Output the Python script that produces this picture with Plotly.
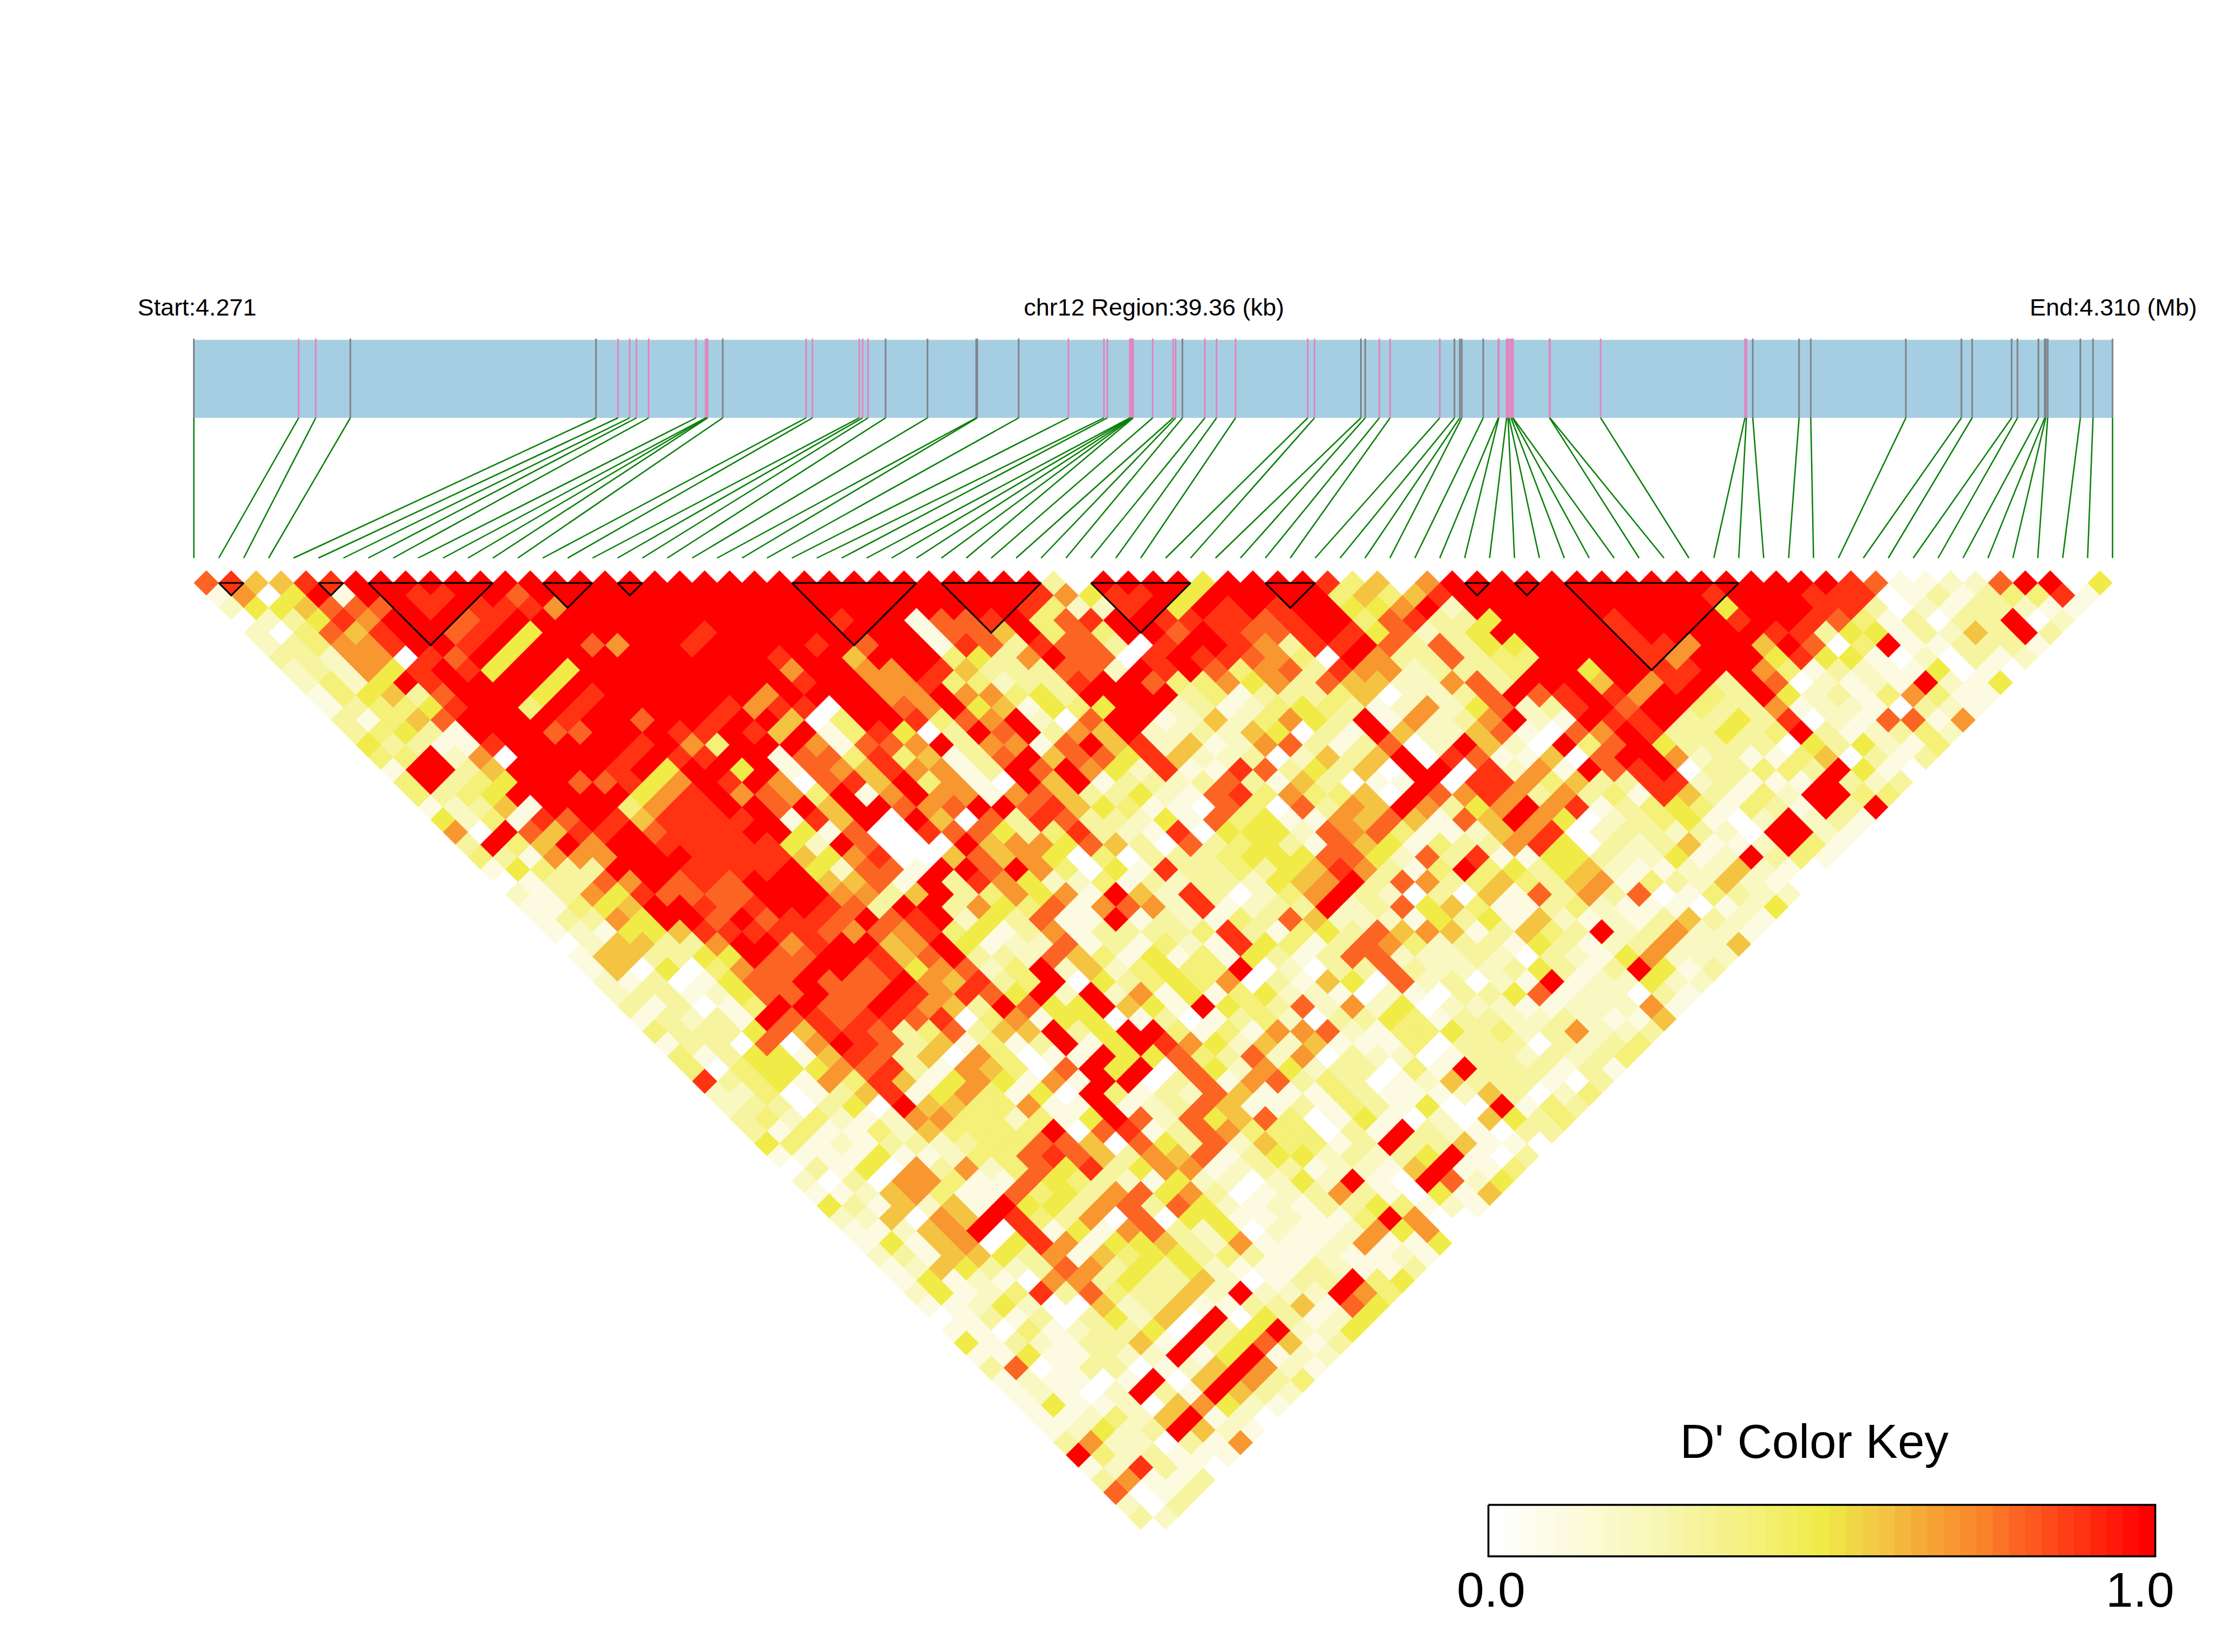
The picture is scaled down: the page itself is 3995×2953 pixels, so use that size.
import plotly.graph_objects as go

snp_kb = [0.00,2.15,2.50,3.21,8.25,8.70,8.94,9.08,9.33,10.30,10.50,10.52,10.54,10.85,12.56,12.69,13.65,13.72,13.83,14.19,
          15.05,16.05,16.07,16.92,17.94,18.67,18.74,19.20,19.22,19.24,19.25,19.27,19.67,20.09,20.14,20.28,20.74,20.98,21.37,22.85,
          22.99,23.94,24.03,24.32,24.54,25.56,25.86,25.97,26.01,26.45,26.76,26.77,26.93,26.96,26.98,27.02,27.05,27.06,27.81,27.82,
          28.86,31.82,31.85,31.98,32.93,33.17,35.12,36.26,36.48,37.29,37.41,37.84,37.97,37.99,38.03,38.70,38.96,39.36]
region_kb = 39.36
grey_snps = [0,3,4,13,19,20,21,22,23,35,41,42,46,47,48,49,63,64,65,66,67,68,69,70,71,72,73,74,75,76,77]
ld_blocks = [(1,2),(5,6),(7,12),(14,16),(17,18),(24,29),(30,34),(36,40),(43,45),(51,52),(53,54),(55,62)]

# D' per row of the triangle, row k = SNP pairs (i, i+k+1); digit = tenths, X = 1.0
dprime_rows = [
"896699XXXX XXXXXXXXXX XXXXXXXXXX XXXX30XXXX 5XXXX94607 XXXXXXXXXX XXXXXX9811 228XX05",
"1705X1XX99 XX8XXXXXXX XXXXXXXXXX XXX97599X5 XXXXX46469 XXXXXXXXXX 9XXX999013 134491",
"2556888X9X 9997XXXXXX XXXXXXXXXX XX94229X5X 9X9XX557X2 XXXXXXXXXX 5XXX993021 33211",
"023597XXX8 9XXXXXXXXX XXXX9XX188 9X489XX999 989XX48933 5XXXX9XXXX 9XX9841303 3X02",
"204869XX89 X5XXXXXX9X XXXXXXX188 6X484XX8X9 889X958235 XXXXX9XXXX X993551326 3X3",
"234779XX9X 5XX87XX9XX XX9X8XX198 3988309XX9 7399X83835 5XXXX997XX 6X804X1133 31",
"33277098X5 XXXXXXXXXX 9XX6XXX453 7X8809X998 740X733834 4XXXX97XXX 5955102031 2",
"232759X95X X5XXXXXXXX 7XX77X9633 3882X9X847 8397723334 XX5XX99XX7 4132115010",
"2425X9XXXX 5XXXXXXXXX 9XX7794423 39XX844757 386622783X XX6X79X3X8 02121X215",
"145638XXX5 X9XXXXXX7X XXX77X7745 3XXXX34133 34602238X8 9X97XX43X5 23147411",
"134459XX4X 9XXXXX9799 0XX87X5615 45XX231245 4312725823 9X8XX43371 2210321",
"31468XXXX9 XX8XX9XX60 4XX9487X20 8XX1262475 3X17237X21 X99X335390 218817",
"34531XXX88 XXX99X96X1 49503X8X37 6X22326503 1X62268108 7X933534X3 12342",
"533119XXXX X9X74XXX71 887X37718X 6926127831 3802X620X4 8X53333053 5214",
"44X270XXXX 9X99XX1884 946138X688 5962230263 6X09811608 XX72311460 313",
"1XX36XXXX9 X5XX5X1876 97713X8X75 2911983536 0XX09271X8 9X033443X5 10",
"4X345XX889 57X9X70896 X4710X6X13 3238316301 1X09974633 9923111X32 3",
"4345XXXXX5 79X7874X17 X771786335 2189474460 X879737341 963142XX44",
"12361XXX47 99XX8X6XX8 78XX896541 108408376X 7357X79134 541431X3X",
"524198X969 999X196X0X 6083983325 1845117686 186X750234 5102X231",
"70X8699X89 99XX518009 8853493219 0555287841 1267902332 320XX21",
"3X46X7XX99 99952X8000 X677586308 3453186514 3379503236 112X41",
"431777XXX9 9996579006 8675040333 4555885283 9115532251 2X341",
"15433XXX99 99X52881XX 8X74051933 435697314X 4535621122 6210",
"013387X898 XXX6681X39 7522413233 2567X38734 6436714326 210",
"2137598888 XXX7736X34 7571X62930 247X320306 1837380143 22",
"11456XX989 XX983XX375 4817872912 33X2385641 1342111012 5",
"13375XX8X8 998X89X253 811X132143 8622215351 6212136321",
"1215569999 9878794513 7133334931 4538676136 43X237221",
"0266337XX7 9XX67X5122 8131421954 1387423315 31237226",
"1663355X88 XX968X3328 6415141531 3882223203 2157222",
"160504788X X8957824X2 624544X020 3383222353 13X513",
"21301588X8 88X76934X0 5345470316 50823021X1 22522",
"23312588X8 8X97985X2X 2715145221 0210335812 2031",
"313014XX88 X9763X855X 651X543827 2502221122 271",
"13231X8989 9890471550 1301342033 5413322321 16",
"4333586998 348366X35X X414177821 4453423722 3",
"1330807X98 361413X15X 9752626111 4033303234",
"4135516983 6074011X55 8438270322 013323234",
"4045557893 176408X5X0 8527523304 1X333131",
"9345174961 575171XX03 8178343012 6333103",
"2240136915 74150X4132 8611143111 263024",
"2330350X66 44711X1238 6113143150 0X143",
"3424212774 42415X8285 6840151020 6534",
"3141142644 44X0891387 444031X321 033",
"5412133234 4886085382 64413X3361 10",
"1111511244 8986376813 5523235X10 3",
"0315073724 8593577123 312216X114",
"2030774118 5432152202 52X10X825",
"1126741184 5378573012 37310516",
"5316261X55 3783852121 3354121",
"226076X943 7080551121 14X700",
"11267X0915 1783250211 27570",
"1516705971 5563271112 7115",
"2316653716 4553431121 121",
"1265323873 5352111321 13",
"1512107735 33620133X4 5",
"2512493843 362X222X74",
"1125200623 611336185",
"0131303526 0X0531 25",
"1104123350 X35X225",
"5132133 61X 358613",
"1151132 2X1 5X122",
"3801330126 X721",
"1211 01X06X 734",
"1210 2X31X6 32",
"1511206752 1",
"11242 6X120",
"12523X621",
"37220317",
"X423111",
"129310",
"37113",
"8013",
"203",
"32",
"0",
]

ANCHORS = [(0,(255,255,255)),(.25,(248,246,180)),(.4,(244,240,120)),(.5,(240,235,70)),(.55,(240,215,70)),
           (.6,(243,195,65)),(.65,(246,170,55)),(.7,(248,150,48)),(.75,(250,130,42)),(.8,(252,100,35)),
           (.9,(255,50,18)),(1,(255,0,0))]
def colour(v):
    for (a,ca),(b,cb) in zip(ANCHORS,ANCHORS[1:]):
        if v<=b:
            t=(v-a)/(b-a)
            return "rgb(%d,%d,%d)"%tuple(round(p+(q-p)*t) for p,q in zip(ca,cb))
    return "rgb(255,0,0)"

n = len(snp_kb)
UNIT = 44.54; X0 = 346.5; Y0 = 1042.0
W, H = 3995, 2953
ux = lambda px: (px-X0)/UNIT
uy = lambda py: (py-Y0)/UNIT

fig = go.Figure()

# gene band
span = n-1
band_t, band_b, link_b = uy(607.5), uy(747), uy(997.5)
fig.add_trace(go.Scatter(x=[0,span,span,0,0],y=[band_t,band_t,band_b,band_b,band_t],mode="lines",fill="toself",
                         fillcolor="#A6CEE3",line=dict(width=0),hoverinfo="skip",showlegend=False))
band_x = [k/region_kb*span for k in snp_kb]
for colr, idx in (("#E086BE",[i for i in range(n) if i not in grey_snps]),("#808488",grey_snps)):
    xs, ys = [], []
    for i in idx:
        xs += [band_x[i],band_x[i],None]; ys += [band_t-0.05,band_b,None]
    fig.add_trace(go.Scatter(x=xs,y=ys,mode="lines",line=dict(color=colr,width=3),hoverinfo="skip",showlegend=False))
xs, ys = [], []
for i in range(n):
    xs += [band_x[i],i,None]; ys += [band_b,link_b,None]
fig.add_trace(go.Scatter(x=xs,y=ys,mode="lines",line=dict(color="#0A800A",width=2.5),hoverinfo="skip",showlegend=False))

# triangle cells
levels = {}
for k,row in enumerate(dprime_rows):
    row = row.replace(" ","")
    want = n-1-k
    if len(row)!=want:
        print("row",k,"len",len(row),"want",want)
    row = (row+"0"*want)[:want]
    for i,c in enumerate(row):
        if c=="0":
            continue
        v = 1.0 if c=="X" else int(c)/10
        cx, cy = i+(k+1)/2, k/2
        L = levels.setdefault(v,([],[]))
        L[0].extend([cx-.5,cx,cx+.5,cx,cx-.5,None])
        L[1].extend([cy,cy-.5,cy,cy+.5,cy,None])
for v in sorted(levels):
    c = colour(v)
    fig.add_trace(go.Scatter(x=levels[v][0],y=levels[v][1],mode="lines",fill="toself",fillcolor=c,
                             line=dict(color=c,width=0.4),hoverinfo="skip",showlegend=False))

# haplotype blocks
xs, ys = [], []
for a,b in ld_blocks:
    xs += [a,b,(a+b)/2,a,None]; ys += [0,0,(b-a)/2,0,None]
fig.add_trace(go.Scatter(x=xs,y=ys,mode="lines",line=dict(color="black",width=3),hoverinfo="skip",showlegend=False))

# colour key
key_levels = [i/40 for i in range(41)]
kx0, kx1, ky0, ky1 = ux(2660.5), ux(3852.5), uy(2690), uy(2782)
kw = (kx1-kx0)/41
fig.add_trace(go.Heatmap(z=[key_levels],x=[kx0+kw*i for i in range(42)],y=[ky0,ky1],zmin=0,zmax=1,
                         colorscale=[[v,colour(v)] for v in key_levels],showscale=False,hoverinfo="skip"))
fig.add_trace(go.Scatter(x=[kx0,kx1,kx1,kx0,kx0],y=[ky0,ky0,ky1,ky1,ky0],mode="lines",line=dict(color="black",width=3.5),
                         hoverinfo="skip",showlegend=False))

FONT = "Liberation Sans, Arial, sans-serif"
def label(px,py,text,size,anchor):
    fig.add_annotation(x=ux(px),y=uy(py),text=text,showarrow=False,xanchor=anchor,yanchor="middle",
                       font=dict(family=FONT,size=size,color="black"),xref="x",yref="y")
label(244,549,"Start:4.271",43.4,"left")
label(2063,549,"chr12 Region:39.36 (kb)",43.4,"center")
label(3929,549,"End:4.310 (Mb)",43.4,"right")
label(3243,2576,"D' Color Key",86,"center")
label(2665,2841,"0.0",88,"center")
label(3825,2841,"1.0",88,"center")

fig.update_layout(width=W,height=H,margin=dict(l=0,r=0,t=0,b=0),paper_bgcolor="white",plot_bgcolor="white",showlegend=False)
fig.update_xaxes(visible=False,range=[ux(0),ux(W)],domain=[0,1],fixedrange=True)
fig.update_yaxes(visible=False,range=[uy(H),uy(0)],domain=[0,1],fixedrange=True)
fig.write_html("out.html",config={"displayModeBar":False},post_script="document.body.style.margin='0';")
